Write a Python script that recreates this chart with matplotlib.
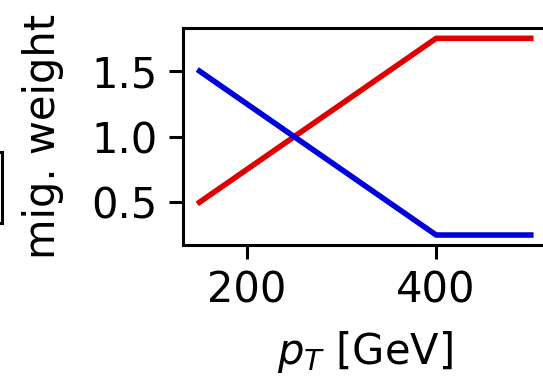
import matplotlib
matplotlib.use("Agg")
import matplotlib.pyplot as plt
from matplotlib.patches import Rectangle

# data
pt_gev = [150, 400, 500]
weight_up = [0.5, 1.75, 1.75]
weight_down = [1.5, 0.25, 0.25]
x_ticks = [200, 400]
y_ticks = [0.5, 1.0, 1.5]

plt.rcParams["font.size"] = 30

fig = plt.figure(figsize=(5.43, 3.85), dpi=100)
ax = fig.add_axes([0.337, 0.364, 0.671, 0.562])

ax.plot(pt_gev, weight_up, color="#e00000", lw=4.0)
ax.plot(pt_gev, weight_down, color="#0000dd", lw=4.0)

ax.set_xticks(x_ticks)
ax.set_yticks(y_ticks)
ax.set_xlabel("$p_T$ [GeV]", labelpad=12)
ax.set_ylabel("mig. weight", labelpad=20)
for s in ax.spines.values():
    s.set_linewidth(2.2)
ax.tick_params(width=2.2, length=10, pad=8)

# edge of the neighbouring panel, cut off at the left border
fig.patches.append(Rectangle((-0.05, 0.42), 0.054, 0.185, transform=fig.transFigure,
                             fill=False, edgecolor="black", lw=2.2, figure=fig))

fig.savefig("out.png", dpi=100)
